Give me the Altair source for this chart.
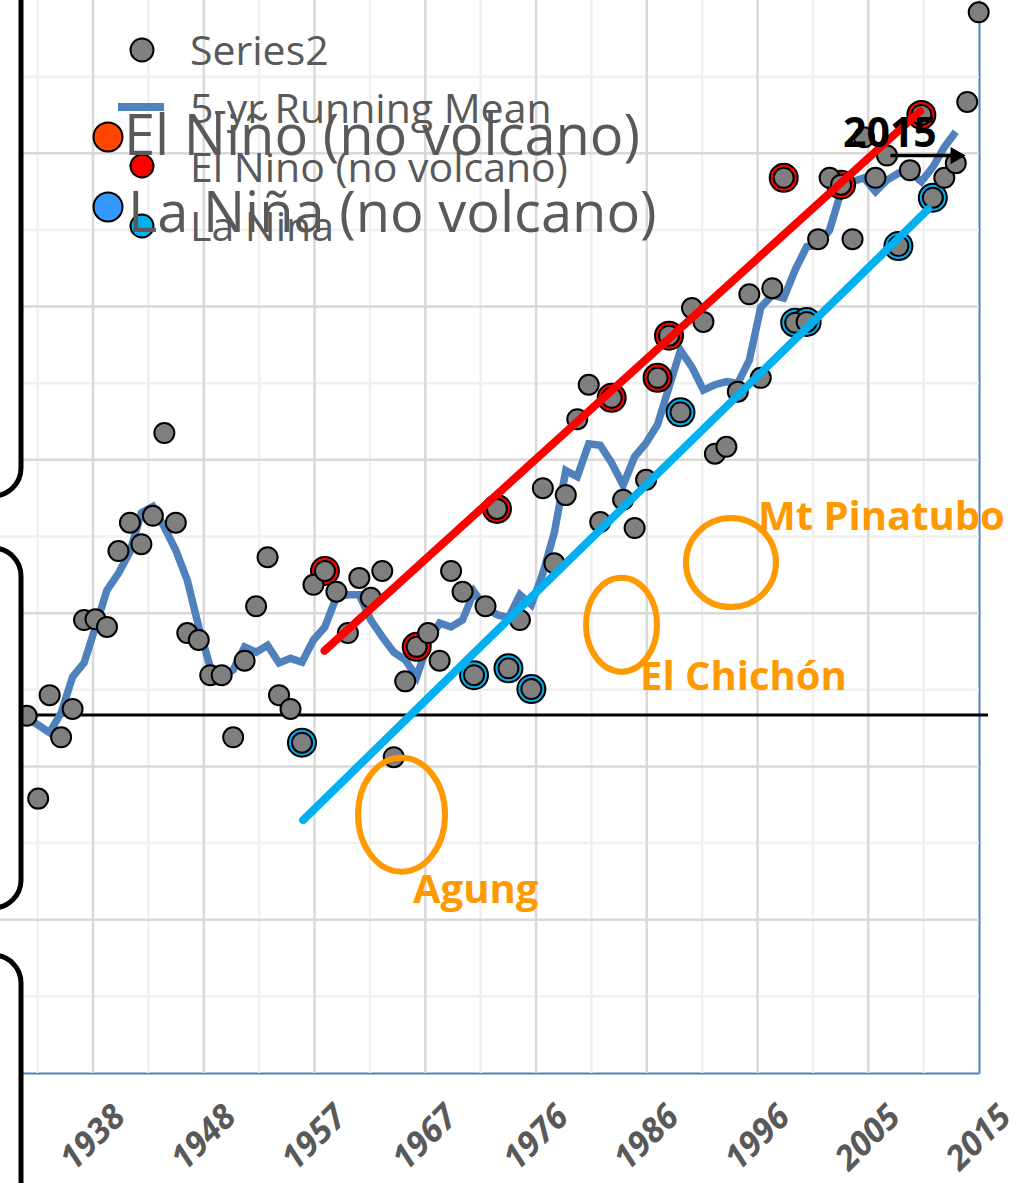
import altair as alt
import pandas as pd

# ---------------- data ----------------
YEARS = list(range(1932, 2016))
ANOMALY = [0.066, -0.042, 0.093, 0.038, 0.075, 0.191, 0.192, 0.182, 0.281, 0.318,
           0.290, 0.327, 0.435, 0.318, 0.174, 0.165, 0.119, 0.119, 0.038, 0.138,
           0.209, 0.273, 0.093, 0.075, 0.031, 0.237, 0.255, 0.228, 0.174, 0.246,
           0.220, 0.255, 0.012, 0.111, 0.156, 0.174, 0.138, 0.255, 0.228, 0.119,
           0.209, 0.336, 0.128, 0.191, 0.101, 0.363, 0.265, 0.354, 0.453, 0.498,
           0.319, 0.481, 0.348, 0.311, 0.374, 0.507, 0.562, 0.462, 0.598, 0.580,
           0.408, 0.417, 0.489, 0.616, 0.507, 0.624, 0.768, 0.579, 0.580, 0.688,
           0.768, 0.759, 0.688, 0.821, 0.768, 0.797, 0.679, 0.778, 0.850, 0.742,
           0.768, 0.787, 0.867, 0.984]

RM_YEARS = list(range(1932, 2014))
RUNNING_MEAN = [0.063, 0.054, 0.044, 0.070, 0.117, 0.135, 0.182, 0.230, 0.252, 0.280,
                0.331, 0.339, 0.312, 0.282, 0.243, 0.182, 0.130, 0.117, 0.126, 0.156,
                0.149, 0.158, 0.135, 0.141, 0.136, 0.165, 0.182, 0.221, 0.224, 0.224,
                0.191, 0.169, 0.149, 0.139, 0.117, 0.161, 0.187, 0.182, 0.191, 0.228,
                0.207, 0.198, 0.194, 0.224, 0.211, 0.252, 0.305, 0.386, 0.378, 0.421,
                0.419, 0.396, 0.367, 0.404, 0.422, 0.446, 0.495, 0.543, 0.521, 0.491,
                0.498, 0.502, 0.500, 0.530, 0.599, 0.615, 0.611, 0.648, 0.678, 0.680,
                0.700, 0.750, 0.763, 0.768, 0.750, 0.765, 0.774, 0.776, 0.763, 0.782,
                0.808, 0.828]

EL_NINO_YEARS = [1958, 1966, 1973, 1983, 1987, 1988, 1998, 2003, 2010]
LA_NINA_YEARS = [1956, 1971, 1974, 1976, 1989, 1999, 2000, 2008, 2011]

RED_TREND_X = [1957.96, 2009.9]
RED_TREND_Y = [0.151, 0.855]
CYAN_TREND_X = [1956.1, 2010.6]
CYAN_TREND_Y = [-0.070, 0.727]

X_TICKS = [1937.78, 1947.44, 1957.09, 1966.75, 1976.41, 1986.06, 1995.72, 2005.37, 2015.02]
X_LABELS = ["1938", "1948", "1957", "1967", "1976", "1986", "1996", "2005", "2015"]
X_MINOR = [1932.95, 1942.61, 1952.27, 1961.92, 1971.58, 1981.23, 1990.89, 2000.55, 2010.20]
Y_MAJOR = [-0.2, 0.0, 0.2, 0.4, 0.6, 0.8]
Y_MINOR = [-0.3, -0.1, 0.1, 0.3, 0.5, 0.7, 0.9]
ZERO_LINE = [0.067]

VOLCANO_NAMES = ["Agung", "El Chichón", "Mt Pinatubo"]
VOLCANO_X = [1964.68, 1983.86, 1993.40]
VOLCANO_Y = [-0.063, 0.185, 0.266]
VOLCANO_LABEL_X = [1965.68, 1985.47, 1995.75]
VOLCANO_LABEL_Y = [-0.178, 0.100, 0.308]

NOTE_TEXT = ["2015"]
NOTE_X = [2007.26]
NOTE_Y = [0.808]
ARROW_X = [2007.3]
ARROW_X2 = [2012.9]
ARROW_Y = [0.797]
ARROW_HEAD_X = [2013.2]

LEGEND_SMALL = ["Series2", "5-yr Running Mean", "El Nino (no volcano)", "La Nina"]
LEGEND_BIG = ["El Niño (no volcano)", "La Niña (no volcano)"]

# ---------------- styles ----------------
FONT = "Open Sans"
TXT = "#595959"
BLUE = "#4F81BD"
ORANGE = "#FF9900"
RED = "#FF0000"
CYAN = "#00B0F0"
DOT = "#7F7F7F"

ELLIPSES = {
    "Agung": "M -43.5 0 A 43.5 57 0 1 1 43.5 0 A 43.5 57 0 1 1 -43.5 0 Z",
    "El Chichón": "M -35.5 0 A 35.5 47 0 1 1 35.5 0 A 35.5 47 0 1 1 -35.5 0 Z",
    "Mt Pinatubo": "M -45 0 A 45 44.5 0 1 1 45 0 A 45 44.5 0 1 1 -45 0 Z",
}
BRACKETS = [
    "M -40 -20 L 21 -20 L 21 468 A 28 28 0 0 1 -7 496 L -40 496 Z",
    "M -40 548 L -7 548 A 28 28 0 0 1 21 576 L 21 880 A 28 28 0 0 1 -7 908 L -40 908 Z",
    "M -40 955 L -7 955 A 28 28 0 0 1 21 983 L 21 1260 L -40 1260 Z",
]

XSCALE = alt.Scale(domain=[1929.672, 2015.025], nice=False, zero=False)
YSCALE = alt.Scale(domain=[-0.4, 1.0], nice=False, zero=False)
step = (X_TICKS[-1] - X_TICKS[0]) / (len(X_TICKS) - 1)
label_expr = ("[" + ",".join(f"'{l}'" for l in X_LABELS) + "]"
              + f"[round((datum.value - {X_TICKS[0]}) / {step})]")
XAXIS = alt.Axis(values=X_TICKS, labelExpr=label_expr, labelAngle=315,
                 labelAlign="center", labelBaseline="middle", labelPadding=65,
                 ticks=False, tickSize=0, grid=False, domainColor=BLUE, domainWidth=2,
                 labelFont=FONT, labelFontSize=34, labelFontWeight="bold",
                 labelFontStyle="italic", labelColor=TXT, labelOverlap=False,
                 labelFlush=False, labelBound=False, title=None)
YAXIS = alt.Axis(orient="right", values=Y_MAJOR, labels=False, ticks=False, grid=False,
                 domainColor=BLUE, domainWidth=2, title=None)


def X(f):
    return alt.X(f"{f}:Q", scale=XSCALE, axis=XAXIS, title=None)


def Y(f):
    return alt.Y(f"{f}:Q", scale=YSCALE, axis=YAXIS, title=None)


ONE = pd.DataFrame({"k": [0]})

df = pd.DataFrame({"year": YEARS, "anom": ANOMALY})
rm = pd.DataFrame({"year": RM_YEARS, "rm": RUNNING_MEAN})
nino = df[df.year.isin(EL_NINO_YEARS)]
nina = df[df.year.isin(LA_NINA_YEARS)]

layers = []
# gridlines
layers.append(alt.Chart(pd.DataFrame({"gx": X_MINOR})).mark_rule(color="#F0F0F0", strokeWidth=2.5).encode(x=X("gx")))
layers.append(alt.Chart(pd.DataFrame({"gy": Y_MINOR})).mark_rule(color="#F0F0F0", strokeWidth=2.5).encode(y=Y("gy")))
layers.append(alt.Chart(pd.DataFrame({"gx": X_TICKS[:-1]})).mark_rule(color="#D9D9D9", strokeWidth=2.5).encode(x=X("gx")))
layers.append(alt.Chart(pd.DataFrame({"gy": Y_MAJOR})).mark_rule(color="#D9D9D9", strokeWidth=2.5).encode(y=Y("gy")))
# zero line
layers.append(alt.Chart(pd.DataFrame({"z": ZERO_LINE})).mark_rule(color="black", strokeWidth=3).encode(
    y=Y("z"), x=alt.value(22), x2=alt.value(988)))
# running mean
layers.append(alt.Chart(rm).mark_line(color=BLUE, strokeWidth=7.5).encode(x=X("year"), y=Y("rm")))
# ENSO rings
layers.append(alt.Chart(nino).mark_point(shape="circle", filled=True, size=784, color=RED,
                                         stroke="black", strokeWidth=2, opacity=1).encode(x=X("year"), y=Y("anom")))
layers.append(alt.Chart(nina).mark_point(shape="circle", filled=True, size=784, color=CYAN,
                                         stroke="black", strokeWidth=2, opacity=1).encode(x=X("year"), y=Y("anom")))
# annual dots
layers.append(alt.Chart(df).mark_point(shape="circle", filled=True, size=400, color=DOT,
                                       stroke="black", strokeWidth=2, opacity=1).encode(x=X("year"), y=Y("anom")))
# trend lines
layers.append(alt.Chart(pd.DataFrame({"x": RED_TREND_X, "y": RED_TREND_Y})).mark_line(
    color=RED, strokeWidth=8, strokeCap="round").encode(x=X("x"), y=Y("y")))
layers.append(alt.Chart(pd.DataFrame({"x": CYAN_TREND_X, "y": CYAN_TREND_Y})).mark_line(
    color=CYAN, strokeWidth=8, strokeCap="round").encode(x=X("x"), y=Y("y")))
# volcano ellipses and labels
for name, vx, vy in zip(VOLCANO_NAMES, VOLCANO_X, VOLCANO_Y):
    layers.append(alt.Chart(pd.DataFrame({"x": [vx], "y": [vy]})).mark_point(
        shape=ELLIPSES[name], size=4, filled=False, color=ORANGE, strokeWidth=6, opacity=1
    ).encode(x=X("x"), y=Y("y")))
layers.append(alt.Chart(pd.DataFrame({"x": VOLCANO_LABEL_X, "y": VOLCANO_LABEL_Y, "t": VOLCANO_NAMES})).mark_text(
    font=FONT, fontSize=40, fontWeight="bold", color=ORANGE, align="left", baseline="alphabetic"
).encode(x=X("x"), y=Y("y"), text="t:N"))
# 2015 note with arrow
layers.append(alt.Chart(pd.DataFrame({"x": ARROW_X, "x2": ARROW_X2, "y": ARROW_Y})).mark_rule(
    color="black", strokeWidth=3.5).encode(x=X("x"), x2=alt.X2("x2"), y=Y("y")))
layers.append(alt.Chart(pd.DataFrame({"x": ARROW_HEAD_X, "y": ARROW_Y})).mark_point(
    shape="triangle-right", size=300, filled=True, color="black", opacity=1).encode(x=X("x"), y=Y("y")))
layers.append(alt.Chart(pd.DataFrame({"x": NOTE_X, "y": NOTE_Y, "t": NOTE_TEXT})).mark_text(
    font=FONT, fontSize=41, fontWeight="bold", color="black", align="center", baseline="alphabetic"
).encode(x=X("x"), y=Y("y"), text="t:N"))

# legend (small entries)
def lg_point(px, py, col, size):
    return alt.Chart(ONE).mark_point(shape="circle", filled=True, size=size, color=col,
                                     stroke="black", strokeWidth=2, opacity=1).encode(
        x=alt.value(px), y=alt.value(py))


def lg_text(px, py, txt, fs):
    return alt.Chart(ONE).mark_text(font=FONT, fontSize=fs, color=TXT, align="left",
                                    baseline="alphabetic").encode(
        x=alt.value(px), y=alt.value(py), text=alt.value(txt))


layers.append(lg_point(142, 50, DOT, 529))
layers.append(alt.Chart(ONE).mark_rule(color=BLUE, strokeWidth=8).encode(
    x=alt.value(118), x2=alt.value(164), y=alt.value(107)))
layers.append(lg_point(142, 166, RED, 529))
layers.append(lg_point(142, 226, CYAN, 529))
for txt, py in zip(LEGEND_SMALL, [65, 123, 182, 241]):
    layers.append(lg_text(190, py, txt, 41))
# legend (big entries)
layers.append(lg_point(108, 137, "#FF4500", 841))
layers.append(lg_point(108, 207, "#3399FF", 841))
for txt, px, py in zip(LEGEND_BIG, [124, 128], [155, 232]):
    layers.append(lg_text(px, py, txt, 56))

# slide brackets at the left edge
for path in BRACKETS:
    layers.append(alt.Chart(ONE).mark_point(shape=path, size=4, filled=True, color="white",
                                            stroke="black", strokeWidth=5, opacity=1).encode(
        x=alt.value(0), y=alt.value(0)))

chart = alt.layer(*layers).properties(
    width=979, height=1073,
    autosize=alt.AutoSizeParams(type="none"),
    padding={"left": 0, "top": 0, "right": 51, "bottom": 110},
    background="white",
).configure_view(strokeWidth=0)

chart.save("out.html", embed_options={"renderer": "svg", "actions": False})
